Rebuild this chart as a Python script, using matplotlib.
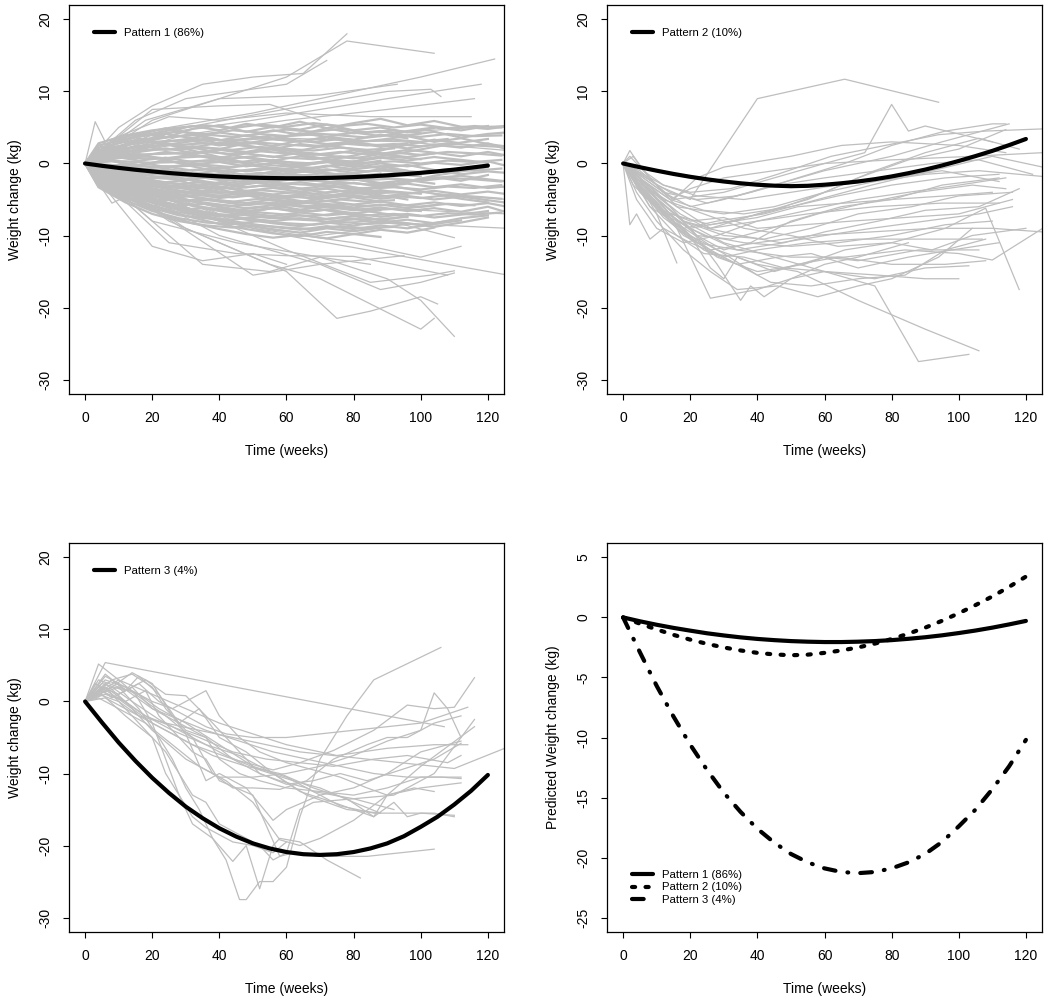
import matplotlib
matplotlib.use("Agg")
import matplotlib.pyplot as plt

plt.rcParams['font.family'] = ['Liberation Sans', 'DejaVu Sans']

# ---------------- data ----------------
weeks = [0, 5, 10, 15, 20, 25, 30, 35, 40, 45, 50, 55, 60, 65, 70, 75, 80, 85, 90, 95, 100, 105, 110, 115, 120]
pattern1_mean = [0, -0.32, -0.61, -0.87, -1.10, -1.32, -1.50, -1.66, -1.79, -1.89, -1.97, -2.02, -2.05,
                 -2.05, -2.02, -1.97, -1.89, -1.78, -1.65, -1.49, -1.30, -1.09, -0.85, -0.58, -0.29]
pattern2_mean = [0, -0.52, -1.0, -1.45, -1.85, -2.2, -2.5, -2.75, -2.95, -3.08, -3.15, -3.1, -2.95,
                 -2.75, -2.5, -2.18, -1.8, -1.35, -0.85, -0.28, 0.35, 1.03, 1.75, 2.55, 3.4]
pattern3_mean = [0, -2.9, -5.7, -8.25, -10.6, -12.7, -14.6, -16.2, -17.6, -18.75, -19.7, -20.4, -20.9,
                 -21.2, -21.3, -21.2, -20.9, -20.4, -19.7, -18.7, -17.4, -16.0, -14.3, -12.4, -10.2]
pattern_labels = ["Pattern 1 (86%)", "Pattern 2 (10%)", "Pattern 3 (4%)"]

x_ticks = [0, 20, 40, 60, 80, 100, 120]
y_ticks_obs = [-30, -20, -10, 0, 10, 20]
y_ticks_pred = [-25, -20, -15, -10, -5, 0, 5]

# Pattern 1 individual trajectories on an 8-week grid
p1_grid = [0, 8, 16, 24, 32, 40, 48, 56, 64, 72, 80, 88, 96, 104, 112, 120, 128]
p1_core = [
    [0, 2.5, 3.8, 4.5, 5.2, 4.6, 5.5, 5.0, 5.8, 4.9, 5.6, 6.2, 5.3, 5.9, 5.1, 4.8, 5.3],
    [0, 3.1, 4.2, 3.6, 4.8, 5.3, 4.4, 5.1, 4.7, 5.4, 4.6, 5.0, 4.3, 4.9],
    [0, 1.8, 3.0, 4.1, 3.5, 4.3, 3.8, 4.6, 4.0, 4.9, 4.2, 4.5, 3.9, 4.4, 3.6, 4.1, 4.4],
    [0, 2.2, 2.9, 3.6, 4.0, 3.2, 3.9, 3.4, 4.2, 3.7, 3.3, 4.0, 3.5],
    [0, 1.5, 2.4, 3.0, 3.5, 2.8, 3.4, 3.9, 3.1, 3.6, 2.9, 3.3, 3.8, 3.0, 3.5, 2.7, 2.2],
    [0, 2.0, 3.3, 2.6, 3.1, 2.5, 3.0, 2.4, 3.2, 2.7, 3.0, 2.3, 2.8],
    [0, 1.2, 2.0, 2.7, 2.2, 2.9, 2.4, 2.0, 2.7, 2.3, 2.9, 2.5, 2.1, 2.6, 2.2, 2.8, 1.6],
    [0, 1.7, 2.5, 1.9, 2.4, 2.0, 1.6, 2.3, 1.8, 2.5, 2.0, 1.5],
    [0, 0.9, 1.6, 2.1, 1.5, 1.9, 1.4, 2.0, 1.6, 1.2, 1.8, 1.3, 1.9, 1.5, 1.0, 1.6, 0.9],
    [0, 1.4, 1.0, 1.6, 1.2, 0.8, 1.4, 0.9, 1.5, 1.1, 0.7, 1.3, 0.9, 1.4],
    [0, 0.6, 1.1, 0.7, 1.2, 0.5, 0.9, 0.4, 1.0, 0.6, 0.2, 0.8, 0.4, 0.9, 0.5, 0.1],
    [0, 1.0, 0.4, 0.8, 0.2, 0.6, 0.0, 0.5, -0.1, 0.3, -0.2, 0.4],
    [0, 0.3, -0.2, 0.4, -0.1, 0.2, -0.4, 0.1, -0.3, 0.2, -0.5, 0.0, -0.4, 0.1, -0.2, 0.3, -0.6],
    [0, -0.4, 0.2, -0.5, -0.1, -0.7, -0.2, -0.6, -0.9, -0.3, -0.8, -0.4, -1.0],
    [0, -0.2, -0.8, -0.4, -1.0, -0.6, -1.1, -0.7, -1.2, -0.8, -1.3, -0.9, -1.4, -1.0, -1.5, -1.1, -1.4],
    [0, -0.8, -1.2, -0.7, -1.4, -1.0, -1.6, -1.2, -1.7, -1.3, -1.8, -1.4],
    [0, -1.1, -1.6, -1.3, -1.9, -1.5, -2.0, -1.6, -2.2, -1.8, -2.3, -1.9, -2.4, -2.0, -1.7, -2.2, -2.6],
    [0, -0.6, -1.5, -2.0, -1.7, -2.3, -1.9, -2.5, -2.1, -2.6, -2.2, -2.7, -2.3, -2.8],
    [0, -1.4, -2.1, -2.6, -2.2, -2.8, -2.4, -3.0, -2.6, -3.1, -2.7, -3.2, -2.8, -3.3, -2.9, -3.4, -3.1],
    [0, -1.0, -1.9, -2.7, -3.1, -2.8, -3.3, -2.9, -3.5, -3.1, -3.6, -3.2],
    [0, -1.6, -2.5, -3.2, -3.6, -3.2, -3.8, -3.4, -3.9, -3.5, -4.1, -3.7, -4.2, -3.8, -4.3, -3.9, -4.4],
    [0, -1.2, -2.3, -3.0, -3.7, -4.1, -3.8, -4.3, -3.9, -4.5, -4.0, -4.6, -4.2],
    [0, -1.9, -2.8, -3.5, -4.0, -4.5, -4.1, -4.7, -4.3, -4.8, -4.4, -4.9, -4.5, -5.0, -4.6, -5.1, -5.6],
    [0, -1.5, -2.6, -3.4, -4.2, -4.8, -4.4, -5.0, -4.6, -5.2, -4.7, -5.3],
    [0, -2.1, -3.2, -4.0, -4.6, -5.1, -5.5, -5.0, -5.6, -5.2, -5.7, -5.3, -5.8, -5.4, -5.9, -5.5, -6.2],
    [0, -1.7, -3.0, -3.9, -4.7, -5.3, -5.8, -5.4, -6.0, -5.6, -6.1, -5.7, -6.2, -5.8],
    [0, -2.4, -3.6, -4.5, -5.2, -5.7, -6.2, -5.8, -6.4, -6.0, -6.5, -6.1, -6.6, -6.2, -6.7, -6.0, -7.1],
    [0, -2.0, -3.4, -4.4, -5.3, -6.0, -6.6, -6.2, -6.8, -6.4, -6.9, -6.5],
    [0, -2.7, -4.0, -5.0, -5.8, -6.4, -6.9, -7.3, -6.8, -7.2, -6.9, -7.4, -7.0, -7.5, -7.1, -6.6],
    [0, -2.3, -3.8, -4.9, -5.9, -6.6, -7.2, -7.6, -7.2, -7.7, -7.3, -7.8, -7.4],
    [0, -3.0, -4.4, -5.5, -6.4, -7.1, -7.6, -8.0, -7.6, -8.1, -7.7, -8.2, -7.8, -8.3, -7.6, -7.2],
    [0, -2.6, -4.2, -5.4, -6.4, -7.2, -7.8, -8.3, -8.7, -8.2, -8.6, -8.1, -8.5],
    [0, -3.3, -4.9, -6.0, -6.9, -7.7, -8.3, -8.8, -9.2, -8.7, -9.1, -8.6, -9.0, -8.4, -7.9],
    [0, -2.9, -4.6, -5.9, -7.0, -7.9, -8.6, -9.2, -9.6, -9.0, -9.4, -8.9],
    [0, -3.6, -5.3, -6.5, -7.5, -8.4, -9.1, -9.7, -10.1, -9.5, -9.8, -9.2, -9.6, -8.9],
    [0, -3.2, -5.6, -7.2, -8.3, -9.1, -9.8, -10.3, -9.9, -10.4, -9.8, -10.2],
    [0, -1.3, -2.2, -1.8, -2.9, -3.6, -4.4, -5.1, -5.9, -6.5, -7.2, -7.9, -8.3, -8.8, -8.2, -7.5],
    [0, 1.1, 1.9, 2.8, 2.2, 1.5, 0.8, 0.2, -0.6, -1.4, -2.1, -2.9, -3.5, -4.2, -4.9, -5.4],
    [0, -2.2, -3.9, -4.7, -4.1, -3.3, -2.6, -1.8, -1.1, -0.4, 0.3, 1.0, 1.6, 2.3, 2.9, 3.4],
    [0, 0.4, -0.6, -1.5, -2.4, -3.2, -3.9, -4.6, -5.2, -5.8, -6.3, -6.9, -7.4],
    [0, -0.9, -0.3, 0.5, 1.3, 2.0, 2.8, 3.4, 3.0, 3.7, 4.3, 3.8, 4.5, 5.0, 4.6, 5.2],
    [0, -3.4, -4.8, -5.1, -4.4, -3.6, -2.9, -2.3, -1.6, -2.1, -1.4, -0.8, -1.3],
    [0, 2.6, 4.0, 4.9, 4.1, 3.3, 2.5, 1.9, 1.2, 0.6, 0.0, -0.7, -0.2, -0.9],
    [0, -1.8, -3.1, -4.3, -5.2, -6.1, -6.8, -6.2, -5.5, -4.7, -4.0, -3.2, -2.5, -1.7, -1.1, -0.5],
    [0, 0.7, 1.3, 0.5, -0.4, -1.2, -2.0, -2.7, -3.5, -4.1, -3.6, -4.4, -5.0],
    [0, -2.5, -4.3, -5.7, -6.7, -7.4, -6.9, -6.1, -5.4, -4.6, -3.9, -3.1, -2.6, -1.9, -2.4, -1.6],
    [0, 1.9, 3.5, 2.7, 1.8, 0.9, 0.1, -0.8, -1.6, -2.5, -3.3, -4.0],
    [0, -0.5, -1.7, -3.0, -3.3, -2.6, -1.9, -1.1, -0.4, 0.4, 1.1, 1.8, 2.6, 3.3, 2.8],
]
# second group of Pattern 1 trajectories, measured on an offset grid
p1_grid_b = [0, 4, 12, 20, 28, 36, 44, 52, 60, 68, 76, 84, 92, 100, 108, 116, 124]
p1_core_b = [
    [0, 2.8, 3.9, 4.6, 5.0, 5.3, 4.9, 5.4, 5.1, 5.6, 5.2, 5.5, 5.0, 5.4, 4.9, 5.2, 5.0],
    [0, 2.5, 3.4, 4.0, 4.4, 4.1, 4.6, 4.3, 4.7, 4.4, 4.8, 4.3, 4.6, 4.2],
    [0, 2.2, 3.0, 3.5, 3.8, 4.0, 3.7, 4.1, 3.8, 4.2, 3.9, 3.6, 4.0, 3.7, 4.1, 3.8, 3.9],
    [0, 1.9, 2.6, 3.0, 3.2, 3.4, 3.1, 3.5, 3.2, 3.0, 3.4, 3.1, 3.3, 3.0, 3.4],
    [0, 1.6, 2.1, 2.4, 2.6, 2.8, 2.5, 2.9, 2.6, 2.4, 2.8, 2.5, 2.7, 2.4, 2.8, 2.5, 2.3],
    [0, 1.3, 1.7, 1.9, 2.0, 2.2, 1.9, 2.3, 2.0, 1.8, 2.2, 1.9, 2.1],
    [0, 1.0, 1.2, 1.3, 1.4, 1.6, 1.3, 1.7, 1.4, 1.2, 1.6, 1.3, 1.5, 1.2, 1.6, 1.4, 1.1],
    [0, 0.7, 0.8, 0.7, 0.8, 1.0, 0.7, 1.1, 0.8, 0.6, 1.0, 0.7, 0.9, 0.6],
    [0, 0.4, 0.3, 0.1, 0.2, 0.4, 0.1, 0.5, 0.2, 0.0, 0.4, 0.1, 0.3, 0.0, 0.4, 0.2, 0.5],
    [0, -0.2, -0.3, -0.4, -0.4, -0.2, -0.5, -0.1, -0.4, -0.6, -0.2, -0.5, -0.3],
    [0, -0.5, -0.8, -0.9, -1.0, -0.8, -1.1, -0.7, -1.0, -1.2, -0.8, -1.1, -0.9, -1.2, -0.8, -1.0, -0.7],
    [0, -0.8, -1.2, -1.5, -1.6, -1.4, -1.7, -1.3, -1.6, -1.8, -1.4, -1.7, -1.5, -1.8],
    [0, -1.1, -1.6, -2.0, -2.2, -2.0, -2.3, -1.9, -2.2, -2.4, -2.0, -2.3, -2.1, -2.4, -2.0, -2.2, -2.5],
    [0, -1.4, -2.0, -2.5, -2.8, -2.6, -2.9, -2.5, -2.8, -3.0, -2.6, -2.9, -2.7],
    [0, -1.6, -2.4, -3.0, -3.4, -3.2, -3.5, -3.1, -3.4, -3.6, -3.2, -3.5, -3.3, -3.6, -3.2, -3.4, -3.0],
    [0, -1.8, -2.8, -3.5, -4.0, -3.8, -4.1, -3.7, -4.0, -4.2, -3.8, -4.1, -3.9, -4.2],
    [0, -2.0, -3.2, -4.0, -4.6, -4.4, -4.7, -4.3, -4.6, -4.8, -4.4, -4.7, -4.5, -4.8, -4.4, -4.6, -4.9],
    [0, -2.2, -3.6, -4.5, -5.2, -5.0, -5.3, -4.9, -5.2, -5.4, -5.0, -5.3, -5.1],
    [0, -2.4, -3.9, -5.0, -5.8, -5.6, -5.9, -5.5, -5.8, -6.0, -5.6, -5.9, -5.7, -6.0, -5.6, -5.8],
    [0, -2.6, -4.2, -5.4, -6.4, -6.2, -6.5, -6.1, -6.4, -6.6, -6.2, -6.5, -6.3, -6.6],
    [0, -2.8, -4.5, -5.8, -6.8, -7.0, -7.2, -6.8, -7.1, -7.3, -6.9, -7.2, -7.0, -7.3, -6.9, -7.1, -6.8],
    [0, -3.0, -4.8, -6.2, -7.2, -7.6, -7.8, -7.4, -7.7, -7.9, -7.5, -7.8, -7.6],
    [0, -3.2, -5.1, -6.6, -7.6, -8.2, -8.4, -8.0, -8.3, -8.5, -8.1, -8.4, -8.2, -8.5, -8.0],
    [0, -3.3, -5.4, -7.0, -8.0, -8.6, -8.9, -8.6, -8.9, -9.1, -8.7, -9.0, -8.8],
]
# Pattern 1 sparse / outlying trajectories as (week, kg)
p1_extra = [
    [(0, 0), (10, 5), (20, 8), (35, 11), (50, 12), (65, 12.5), (78, 18)],
    [(0, 0), (15, 6), (30, 9), (45, 10), (60, 11), (72, 14.3)],
    [(0, 0), (20, 6), (40, 9), (60, 12), (78, 17), (104, 15.3)],
    [(0, 0), (25, 5), (50, 7), (80, 10), (100, 12), (122, 14.5)],
    [(0, 0), (20, 4), (50, 6), (90, 9), (118, 11)],
    [(0, 0), (18, 6), (40, 9), (70, 9.5), (93, 11)],
    [(0, 0), (30, 4), (60, 6), (90, 7.5), (116, 9)],
    [(0, 0), (30, 5), (65, 8), (90, 10), (103, 10.3), (106, 9.3)],
    [(0, 0), (20, 7.5), (40, 8), (55, 8.2), (70, 6)],
    [(0, 0), (3, 5.8), (6, 3), (14, 4.5), (25, 6.5), (40, 6), (60, 7), (85, 6.5), (115, 6.5)],
    [(0, 0), (30, 3), (70, 4), (100, 4.5), (126, 5.3)],
    [(0, 0), (20, 3), (60, 3.5), (95, 3), (126, 1.8)],
    [(0, 0), (25, -8), (45, -12), (60, -15), (75, -21.5), (85, -20.5), (100, -18.5), (105, -19.5)],
    [(0, 0), (30, -9), (55, -14), (70, -16), (85, -19.5), (100, -23), (104, -21.5)],
    [(0, 0), (20, -8), (45, -11), (70, -13), (90, -16), (100, -19), (110, -24)],
    [(0, 0), (40, -10), (70, -14), (88, -17.5), (100, -16.5), (110, -15.2)],
    [(0, 0), (30, -7), (60, -10), (90, -12.5), (126, -15.5)],
    [(0, 0), (20, -11.5), (35, -13.5), (50, -12.5), (60, -14)],
    [(0, 0), (35, -14), (55, -15), (70, -13), (85, -14)],
    [(0, 0), (50, -15.5), (70, -14), (95, -12.8)],
    [(0, 0), (25, -11), (45, -12.5), (60, -12.8), (80, -12.9), (108, -15.5)],
    [(0, 0), (50, -9), (80, -11), (100, -13), (112, -11.5)],
    [(0, 0), (8, -5.5), (15, -4), (22, -6)],
    [(0, 0), (40, -8), (70, -10), (95, -8.5), (110, -10.3)],
    [(0, 0), (60, -12), (85, -16.5), (103, -15.5), (110, -14.9)],
    [(0, 0), (30, -5), (70, -6), (100, -6.5), (126, -7)],
    [(0, 0), (20, -4), (60, -4.5), (100, -4), (126, -5)],
    [(0, 0), (40, -7), (80, -8), (126, -9)],
]
# Pattern 2 individual trajectories as (week, kg)
p2_traj = [
    [(0, 0), (2, 1.8), (6, -1), (12, -4), (20, -6), (30, -5), (45, -3), (60, -1), (80, 1), (95, 3), (115, 5.5)],
    [(0, 0), (4, -2), (10, -5), (18, -8), (26, -9), (40, -7), (55, -5), (70, -2), (85, 0.5), (100, 2), (114, 4.7)],
    [(0, 0), (3, -1), (8, -4), (14, -7), (22, -10), (30, -12), (38, -11), (50, -8), (65, -6), (80, -5), (95, -3), (112, -2)],
    [(0, 0), (2, -8.5), (4, -7), (8, -10.5), (12, -9), (20, -11), (30, -13), (40, -12), (55, -11), (70, -10.5), (90, -10.5), (107, -10.5)],
    [(0, 0), (5, -3), (10, -7), (16, -13.8)],
    [(0, 0), (5, -2), (12, -6), (20, -10), (26, -14.5), (30, -16), (34, -13), (45, -15), (60, -13), (70, -13.5), (88, -12), (106, -12)],
    [(0, 0), (5, -3), (15, -8), (26, -18.7), (40, -17.5), (50, -16), (60, -15), (75, -16), (90, -14.5), (103, -14.2)],
    [(0, 0), (4, -1), (10, -3), (20, -5), (30, 2), (40, 9), (66, 11.7), (94, 8.5)],
    [(0, 0), (6, -2), (15, -5), (30, -4), (45, -2), (60, 0), (72, 1.5), (80, 8.2), (85, 4.5), (90, 5.2), (110, 3)],
    [(0, 0), (8, -4), (18, -8), (30, -11), (45, -13), (60, -15), (75, -17), (88, -27.5), (103, -26.5)],
    [(0, 0), (6, -4), (15, -8), (28, -12), (40, -14), (52, -15), (70, -19), (90, -23), (106, -26)],
    [(0, 0), (3, -2), (10, -6), (20, -9), (28, -14), (35, -19), (38, -17), (42, -18.5), (50, -16), (60, -14), (70, -13), (85, -11)],
    [(0, 0), (5, -1), (10, -3), (15, -5), (22, -2), (30, -0.5), (50, 1), (65, 2.5), (80, 3), (100, 2.5), (114, 1.5)],
    [(0, 0), (4, -3), (10, -6), (20, -9), (32, -8), (45, -6.5), (60, -4), (75, -1), (90, 1.5), (106, 3.5), (118, 2)],
    [(0, 0), (5, -2), (12, -5), (24, -7), (36, -9), (50, -10), (64, -11.5), (80, -11), (96, -9), (108, -6.2), (118, -17.5)],
    [(0, 0), (3, 1), (8, -2), (16, -6), (26, -9), (40, -8), (55, -7), (75, -6), (95, -5.5), (112, -5.5)],
    [(0, 0), (6, -3), (14, -6), (22, -10), (32, -10.5), (44, -9), (58, -7), (72, -5.5), (88, -4), (104, -3), (114, -3.5)],
    [(0, 0), (4, -2), (10, -5.5), (18, -9.5), (28, -13), (40, -15), (54, -14), (66, -12), (80, -11), (92, -12), (104, -10), (120, -9)],
    [(0, 0), (2, -1), (8, -3), (14, -5), (20, -3.5), (30, -2), (45, -1), (60, 0), (80, 0.5), (104, 1), (125, 1.5)],
    [(0, 0), (5, -3), (12, -7), (24, -10), (36, -11), (50, -11.5), (64, -11), (80, -10), (96, -8.5), (110, -8)],
    [(0, 0), (4, -4), (10, -8), (18, -12), (26, -15), (34, -17.5), (46, -17), (58, -18.5), (70, -17), (80, -16), (94, -13), (104, -9)],
    [(0, 0), (6, -2.5), (14, -5), (24, -6.5), (36, -7), (50, -6), (64, -4.5), (80, -3), (96, -2), (112, -1.5)],
    [(0, 0), (3, -2), (8, -5), (16, -9), (24, -12), (34, -14), (46, -13), (56, -12.5), (70, -14.5), (85, -13), (98, -12), (112, -11)],
    [(0, 0), (5, -1.5), (14, -4), (25, -5.5), (38, -4), (52, -2), (66, 0), (80, 2.5), (96, 4.5), (110, 5.5), (114, 5.5)],
    [(0, 0), (4, -3), (12, -6.5), (20, -8), (30, -7.5), (40, -9), (54, -8.5), (68, -8), (84, -7.5), (100, -7), (116, -5)],
    [(0, 0), (8, -6), (16, -10), (24, -12.5), (36, -13), (48, -14.5), (60, -15), (76, -15.5), (90, -16), (100, -16)],
    [(0, 0), (3, -1), (9, -4), (17, -7), (25, -9), (35, -10), (47, -11), (60, -10), (74, -9), (90, -8), (106, -7), (116, -6)],
    [(0, 0), (6, -2), (12, -4), (22, -5), (34, -4.5), (46, -3), (60, -2), (76, -1), (92, 0), (106, 0.5), (122, -1.5)],
    [(0, 0), (4, -5), (10, -9), (18, -11), (28, -10), (40, -8), (55, -6.5), (70, -5), (85, -4), (100, -3), (114, -2)],
    [(0, 0), (5, -3.5), (12, -7.5), (22, -11), (34, -12), (48, -11), (60, -9.5), (76, -8), (90, -6.5), (106, -6), (118, -3.5)],
    [(0, 0), (2, 1), (6, -1), (12, -3), (20, -4), (32, -3.5), (46, -1.5), (62, 1), (78, 2.5), (94, 4), (108, 4.5), (125, 4.8)],
    [(0, 0), (7, -4), (14, -7), (26, -8.5), (40, -7.5), (52, -6), (66, -5.5), (80, -5), (96, -4.5), (110, -4)],
    [(0, 0), (3, -3), (10, -6), (20, -10), (30, -12.5), (40, -15.5), (52, -14), (64, -13), (80, -14), (96, -14), (108, -13.5)],
    [(0, 0), (5, -2), (10, -4), (18, -8), (30, -10), (42, -10.5), (56, -9), (70, -7), (86, -6), (100, -4.5), (116, -4)],
    [(0, 0), (6, -3), (16, -6), (30, -7), (45, -6), (60, -4), (75, -2.5), (90, -1.5), (106, -1), (125, -1.8)],
    [(0, 0), (4, -1), (12, -3), (22, -4.5), (36, -5), (50, -4), (64, -3), (80, -2), (95, -1), (112, -2.5)],
    [(0, 0), (8, -5), (18, -10), (30, -13), (44, -16.5), (56, -17), (70, -16), (84, -15.5), (96, -12), (108, -10.5)],
    [(0, 0), (5, -4), (14, -8), (26, -12), (40, -11), (56, -10), (74, -9.5), (92, -9), (110, -9), (125, -9.5)],
    [(0, 0), (3, -2), (8, -6), (18, -9), (28, -8), (42, -7), (58, -5), (74, -3), (92, -1), (110, 1), (125, -0.5)],
    [(0, 0), (8, -4), (20, -9), (34, -12), (50, -13), (66, -13), (84, -12), (100, -12.5), (110, -13.4), (125, -9)],
]
# Pattern 3 individual trajectories as (week, kg)
p3_traj = [
    [(0, 0), (6, 5.4), (107, -3.5)],
    [(0, 0), (4, 5.2), (10, 3), (20, 1), (30, -1), (40, -3), (60, -6), (75, -7.5), (90, -6.5), (104, -6), (114, -6)],
    [(0, 0), (6, 3.8), (12, 1.5), (16, 3.5), (22, 1), (28, -3), (34, -1), (40, -5), (48, -7), (56, -10), (64, -12.5), (74, -14), (86, -16), (90, -13), (100, -12), (112, -11.3)],
    [(0, 0), (8, 2), (14, 4), (20, 2.5), (26, -2), (30, -4.5), (36, -11), (40, -10), (48, -12), (56, -16.5), (60, -15), (70, -13), (80, -12), (90, -10), (100, -7), (112, -5.5)],
    [(0, 0), (6, 2), (12, 0), (18, 1.5), (22, -2), (28, -5), (32, -7), (36, -8), (40, -11), (50, -13), (58, -21.5), (62, -21), (70, -21.5), (84, -21.5), (104, -20.5)],
    [(0, 0), (5, 1.5), (10, 3), (15, 1), (20, -3), (24, -8), (28, -13), (32, -17), (38, -19), (44, -22.2), (48, -20), (52, -26), (56, -20), (58, -19), (64, -19.5), (72, -22), (82, -24.5)],
    [(0, 0), (4, 3), (10, 2), (16, -1), (22, -5), (26, -8), (30, -12), (34, -15), (38, -19), (42, -22), (46, -27.5), (48, -27.5), (52, -25), (56, -25), (60, -23), (64, -16), (70, -8), (78, -2), (86, 3), (106, 7.5)],
    [(0, 0), (8, 3), (14, 3.8), (20, 2), (24, -1), (30, -4), (36, -5), (40, -8), (46, -10), (52, -11), (60, -12), (70, -12.5), (80, -13), (90, -12), (100, -10.5), (112, -10.5)],
    [(0, 0), (6, 1), (12, 0), (18, -2), (26, -3.5), (34, -5), (44, -7), (54, -8), (64, -8.5), (74, -9), (86, -8), (96, -7.5), (108, -8.5), (112, -7.5)],
    [(0, 0), (5, 2), (10, 1), (16, 2.5), (22, 0), (30, -2), (36, -3.5), (42, -4.5), (50, -5), (60, -5), (70, -4.5), (80, -4), (90, -3.5), (100, -3), (114, -0.8)],
    [(0, 0), (6, 3), (12, 2), (20, 0), (26, -1), (32, 0.5), (36, 1.5), (40, -2), (46, -5), (52, -7), (60, -8.5), (68, -9.5), (76, -10.5), (84, -12), (90, -13), (98, -12), (104, -12.5)],
    [(0, 0), (4, 1), (10, 0), (16, -2), (24, -3), (34, -4), (44, -5), (54, -6), (64, -7), (74, -7.5), (84, -8), (94, -8.5), (104, -9), (110, -9.3), (125, -6.5)],
    [(0, 0), (8, 3), (14, 1), (20, -1), (28, -3), (36, -5), (44, -8), (52, -10), (58, -11), (66, -12), (76, -14.5), (86, -15.5), (96, -15.5), (104, -15.5), (110, -16)],
    [(0, 0), (5, 2.5), (12, 1.5), (18, 3), (24, 1), (30, 0.8), (36, -2), (44, -6), (52, -10), (60, -11.5), (68, -11), (76, -10), (84, -11), (94, -9.5), (104, -8), (112, -5.8)],
    [(0, 0), (4, 0.5), (10, -1), (18, -3), (26, -6), (34, -9), (42, -11), (50, -14), (58, -19.2), (64, -20), (70, -19), (80, -16.5), (90, -13), (100, -9), (116, -3.5)],
    [(0, 0), (6, 2), (12, -1), (18, -4), (24, -7), (28, -10), (32, -13), (36, -14), (40, -17), (44, -18), (48, -19), (52, -20), (56, -22), (60, -21), (64, -15), (68, -14), (80, -13.5), (92, -13), (104, -10), (116, -2.5)],
    [(0, 0), (4, 1.5), (10, 0.5), (18, -2), (26, -4), (36, -6), (46, -7.5), (56, -10), (66, -13), (78, -15), (88, -15.5)],
    [(0, 0), (6, 3.5), (12, 2), (18, 0), (24, -2), (32, -5), (38, -10), (44, -12), (50, -12), (58, -12.2), (66, -11), (74, -8), (84, -6), (90, -5), (96, -5), (104, -3), (108, -2.5), (112, -2)],
    [(0, 0), (4, 2), (8, 0.5), (14, 2), (20, -1), (28, -2.5), (36, -4), (46, -5.5), (56, -7), (66, -8), (76, -9), (86, -10), (96, -10.5), (106, -10.5), (112, -10.7)],
    [(0, 0), (3, 2.5), (8, 1), (14, -1), (20, -3), (28, -5), (38, -7.5), (48, -9), (58, -10), (68, -12), (78, -13.5), (86, -16), (92, -14), (96, -16), (100, -15.5), (110, -15.8)],
    [(0, 0), (5, 1), (12, -2), (20, -5), (24, -10), (28, -13), (32, -16), (36, -17.5), (40, -18.5), (44, -19.5), (50, -20), (56, -21), (60, -19.5)],
    [(0, 0), (6, 2.5), (12, 0), (20, -4), (30, -8), (40, -10.5), (50, -10.5), (60, -10), (70, -9), (80, -7.5), (90, -5.5), (100, -4), (104, 1.2), (108, -1), (112, -5)],
    [(0, 0), (4, 1), (10, 2), (16, 1), (22, -1), (30, -3), (40, -6), (50, -9), (60, -10.5), (68, -12.5), (80, -13.5), (92, -15)],
    [(0, 0), (6, 0.5), (14, -1.5), (22, -3.5), (32, -6), (44, -8), (56, -9.5), (64, -8.5), (74, -6.8), (86, -4), (96, -0.5), (104, -1), (110, -0.8), (116, 3.3)],
    [(0, 0), (8, 2), (14, 0), (22, -2.5), (32, -5), (42, -7.5), (52, -9.5), (62, -11), (70, -12), (80, -14), (88, -15.5)],
]

# ---------------- styling ----------------
GRAY = "#bebebe"
FS = 10
LEG_FS = 8.2

fig = plt.figure(figsize=(10.5, 10), dpi=100)
fig.patch.set_facecolor("white")

positions = [
    [0.0657, 0.606, 0.4143, 0.389],
    [0.5781, 0.606, 0.4143, 0.389],
    [0.0657, 0.068, 0.4143, 0.389],
    [0.5781, 0.068, 0.4143, 0.389],
]
axes = [fig.add_axes(p) for p in positions]


def style_axis(ax, yticks, ylim, ylabel):
    ax.set_xlim(-4.8, 124.8)
    ax.set_ylim(*ylim)
    ax.set_xticks(x_ticks)
    ax.set_yticks(yticks)
    ax.set_xticklabels([str(t) for t in x_ticks])
    ax.set_yticklabels([str(t) for t in yticks], rotation=90, va="center")
    ax.tick_params(direction="out", length=4, width=0.8, labelsize=FS, pad=8, colors="black")
    for s in ax.spines.values():
        s.set_linewidth(0.9)
        s.set_color("black")
    ax.set_xlabel("Time (weeks)", fontsize=FS, labelpad=14)
    ax.set_ylabel(ylabel, fontsize=FS, labelpad=12)


def draw_pairs(ax, trajs, lw):
    for tr in trajs:
        ts = [p[0] for p in tr]
        vs = [p[1] for p in tr]
        ax.plot(ts, vs, color=GRAY, lw=lw, solid_joinstyle="round")


def add_legend(ax, handles, labels, loc, anchor):
    ax.legend(handles, labels, loc=loc, bbox_to_anchor=anchor, frameon=False,
              fontsize=LEG_FS, handlelength=1.85, handletextpad=0.75,
              borderpad=0, borderaxespad=0, labelspacing=0.2)


# Panel 1
ax = axes[0]
for tr in p1_core:
    ax.plot(p1_grid[:len(tr)], tr, color=GRAY, lw=1.6, solid_joinstyle="round")
for tr in p1_core_b:
    ax.plot(p1_grid_b[:len(tr)], tr, color=GRAY, lw=1.6, solid_joinstyle="round")
draw_pairs(ax, p1_extra, 0.9)
h, = ax.plot(weeks, pattern1_mean, color="black", lw=3, solid_capstyle="round")
style_axis(ax, y_ticks_obs, (-32, 22), "Weight change (kg)")
add_legend(ax, [h], [pattern_labels[0]], "upper left", (0.058, 0.94))

# Panel 2
ax = axes[1]
draw_pairs(ax, p2_traj, 0.9)
h, = ax.plot(weeks, pattern2_mean, color="black", lw=3, solid_capstyle="round")
style_axis(ax, y_ticks_obs, (-32, 22), "Weight change (kg)")
add_legend(ax, [h], [pattern_labels[1]], "upper left", (0.058, 0.94))

# Panel 3
ax = axes[2]
draw_pairs(ax, p3_traj, 0.9)
h, = ax.plot(weeks, pattern3_mean, color="black", lw=3, solid_capstyle="round")
style_axis(ax, y_ticks_obs, (-32, 22), "Weight change (kg)")
add_legend(ax, [h], [pattern_labels[2]], "upper left", (0.058, 0.94))

# Panel 4
ax = axes[3]
h1, = ax.plot(weeks, pattern1_mean, color="black", lw=3, solid_capstyle="round")
h2, = ax.plot(weeks, pattern2_mean, color="black", lw=3, linestyle=(0, (0.75, 2.5)),
              dash_capstyle="round")
h3, = ax.plot(weeks, pattern3_mean, color="black", lw=3, linestyle=(0, (2.8, 2.9, 0.2, 2.9)),
              dash_capstyle="round")
style_axis(ax, y_ticks_pred, (-26.2, 6.2), "Predicted Weight change (kg)")
add_legend(ax, [h1, h2, h3], pattern_labels, "lower left", (0.058, 0.07))

fig.savefig("out.png", dpi=100, facecolor="white")
